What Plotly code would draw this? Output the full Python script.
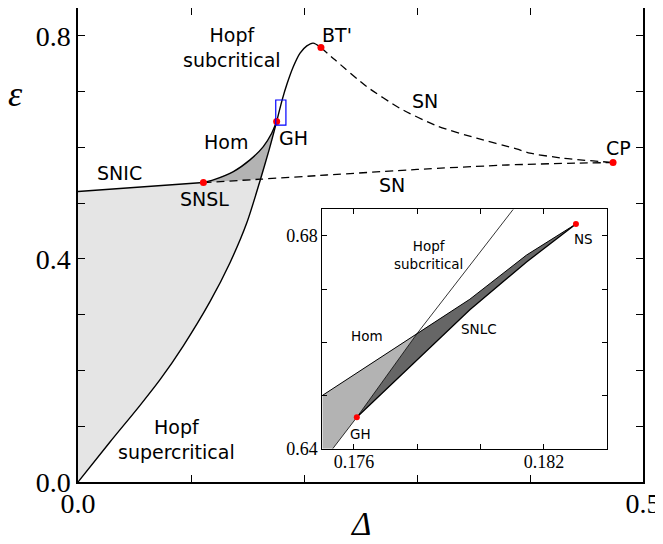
import plotly.graph_objects as go

# ---------------- main diagram data (Delta, epsilon) ----------------
hopf_x = [0.0, 0.0283, 0.0549, 0.0726, 0.0932, 0.1168, 0.1345, 0.1493, 0.1615, 0.1693, 0.1758,
          0.1805, 0.1850, 0.1906, 0.1965, 0.2025, 0.208, 0.215]
hopf_y = [0.0, 0.0717, 0.1375, 0.1835, 0.2443, 0.3234, 0.3933, 0.4643, 0.543, 0.597, 0.6463,
          0.684, 0.714, 0.745, 0.769, 0.782, 0.787, 0.779]
hopf_cross_idx = 8   # Hopf meets lower SN line
hopf_gh_idx = 10     # GH point on Hopf curve

hom_x = [0.111, 0.1198, 0.1375, 0.1522, 0.164, 0.1714, 0.1758]
hom_y = [0.537, 0.5417, 0.5566, 0.5776, 0.6014, 0.6254, 0.6463]

snic_x = [0.0, 0.055, 0.111]
snic_y = [0.521, 0.529, 0.537]

sn_low_x = [0.111, 0.1615, 0.22, 0.30, 0.38, 0.44, 0.4735]
sn_low_y = [0.537, 0.543, 0.5505, 0.5605, 0.5685, 0.5718, 0.5728]
sn_low_cross_idx = 1

sn_up_x = [0.215, 0.2274, 0.2555, 0.285, 0.3174, 0.3528, 0.388, 0.4, 0.4295, 0.4735]
sn_up_y = [0.779, 0.757, 0.709, 0.670, 0.6386, 0.6165, 0.5973, 0.5896, 0.5806, 0.5728]

pt_names = ["SNSL", "GH", "BT'", "CP"]
pt_x = [0.111, 0.1758, 0.215, 0.4735]
pt_y = [0.537, 0.6463, 0.779, 0.5728]

zoom_box_x = [0.175, 0.184]
zoom_box_y = [0.64, 0.685]

main_labels = ["Hopf<br>subcritical", "BT'", "SN", "CP", "SN", "SNIC", "SNSL", "Hom", "GH",
               "Hopf<br>supercritical"]
main_lab_x = [0.1363, 0.2292, 0.3071, 0.4779, 0.2779, 0.0363, 0.1115, 0.131, 0.1903, 0.0876]
main_lab_y = [0.7785, 0.8018, 0.6834, 0.5991, 0.5327, 0.5543, 0.5076, 0.6099, 0.617, 0.0771]

x_ticks = [0.0, 0.1, 0.2, 0.3, 0.4, 0.5]
x_ticktext = ["0.0", "", "", "", "", "0.5"]
y_ticks = [0.0, 0.1, 0.2, 0.3, 0.4, 0.5, 0.6, 0.7, 0.8]
y_ticktext = ["0.0", "", "", "", "0.4", "", "", "", "0.8"]

# ---------------- inset data ----------------
in_hopf_x = [0.17533, 0.17609, 0.1780, 0.18103]
in_hopf_y = [0.640, 0.6459, 0.6617, 0.685]
in_hom_x = [0.175, 0.1780, 0.17966, 0.18145, 0.18301]
in_hom_y = [0.650, 0.6617, 0.6681, 0.6764, 0.68224]
in_snlc_x = [0.17609, 0.17966, 0.18145, 0.18301]
in_snlc_y = [0.6459, 0.6661, 0.6751, 0.68224]

in_pt_names = ["GH", "NS"]
in_pt_x = [0.17609, 0.18301]
in_pt_y = [0.6459, 0.68224]

in_labels = ["Hopf<br>subcritical", "Hom", "SNLC", "NS", "GH"]
in_lab_x = [0.17834, 0.17641, 0.17995, 0.18326, 0.17622]
in_lab_y = [0.67641, 0.66118, 0.6625, 0.67942, 0.64276]

in_x_ticks = [0.176, 0.178, 0.180, 0.182]
in_x_ticktext = ["0.176", "", "", "0.182"]
in_y_ticks = [0.64, 0.65, 0.66, 0.67, 0.68]
in_y_ticktext = ["0.64", "", "", "", "0.68"]

LIGHT = "#e5e5e5"
MID = "#b3b3b3"
DARK = "#666666"
SANS = "DejaVu Sans"
SERIF = "Liberation Serif"

fig = go.Figure()

# light gray region: left of Hopf, below SNIC / lower SN
lx = hopf_x[:hopf_cross_idx + 1] + sn_low_x[:sn_low_cross_idx][::-1] + snic_x[::-1]
ly = hopf_y[:hopf_cross_idx + 1] + sn_low_y[:sn_low_cross_idx][::-1] + snic_y[::-1]
fig.add_trace(go.Scatter(x=lx, y=ly, fill="toself", fillcolor=LIGHT, mode="none",
                         hoverinfo="skip"))
# mid gray region: between Hom, Hopf and lower SN
mx = hom_x + hopf_x[hopf_cross_idx:hopf_gh_idx + 1][::-1] + sn_low_x[:sn_low_cross_idx][::-1]
my = hom_y + hopf_y[hopf_cross_idx:hopf_gh_idx + 1][::-1] + sn_low_y[:sn_low_cross_idx][::-1]
fig.add_trace(go.Scatter(x=mx, y=my, fill="toself", fillcolor=MID, mode="none",
                         hoverinfo="skip"))

solid = dict(color="black", width=1.4)
fig.add_trace(go.Scatter(x=hopf_x, y=hopf_y, mode="lines",
                         line=dict(color="black", width=1.4, shape="spline", smoothing=0.8)))
fig.add_trace(go.Scatter(x=hom_x, y=hom_y, mode="lines",
                         line=dict(color="black", width=1.4, shape="spline", smoothing=0.6)))
fig.add_trace(go.Scatter(x=snic_x, y=snic_y, mode="lines", line=solid))
fig.add_trace(go.Scatter(x=sn_low_x, y=sn_low_y, mode="lines",
                         line=dict(color="black", width=1.3, dash="8px,5px", shape="spline",
                                   smoothing=0.6)))
fig.add_trace(go.Scatter(x=sn_up_x, y=sn_up_y, mode="lines",
                         line=dict(color="black", width=1.3, dash="8px,5px", shape="spline",
                                   smoothing=0.6)))
fig.add_trace(go.Scatter(x=pt_x, y=pt_y, mode="markers", text=pt_names,
                         marker=dict(color="red", size=7, line=dict(width=0))))

# zoom box
fig.add_shape(type="rect", xref="x", yref="y", x0=zoom_box_x[0], x1=zoom_box_x[1],
              y0=zoom_box_y[0], y1=zoom_box_y[1], line=dict(color="blue", width=1.2),
              fillcolor="rgba(0,0,0,0)", layer="above")

for t, x, y in zip(main_labels, main_lab_x, main_lab_y):
    fig.add_annotation(x=x, y=y, xref="x", yref="y", text=t, showarrow=False,
                       xanchor="center", yanchor="middle",
                       font=dict(family=SANS, size=19, color="black"))

# ---------------- inset ----------------
fig.add_shape(type="rect", xref="x2", yref="y2", x0=0.175, x1=0.184,
              y0=0.64, y1=0.685, fillcolor="white", line=dict(width=0), layer="below")

ilx = [0.175, 0.175] + in_hom_x[1:2] + in_hopf_x[:3][::-1][1:]
ily = [0.640, in_hom_y[0]] + in_hom_y[1:2] + in_hopf_y[:3][::-1][1:]
fig.add_trace(go.Scatter(x=ilx, y=ily, xaxis="x2", yaxis="y2", fill="toself",
                         fillcolor=MID, mode="none", hoverinfo="skip"))
idx = in_hopf_x[1:3] + in_hom_x[2:] + in_snlc_x[::-1][1:]
idy = in_hopf_y[1:3] + in_hom_y[2:] + in_snlc_y[::-1][1:]
fig.add_trace(go.Scatter(x=idx, y=idy, xaxis="x2", yaxis="y2", fill="toself",
                         fillcolor=DARK, mode="none", hoverinfo="skip"))
fig.add_trace(go.Scatter(x=in_hopf_x, y=in_hopf_y, xaxis="x2", yaxis="y2", mode="lines",
                         line=dict(color="black", width=0.8)))
fig.add_trace(go.Scatter(x=in_hom_x, y=in_hom_y, xaxis="x2", yaxis="y2", mode="lines",
                         line=dict(color="black", width=1.0)))
fig.add_trace(go.Scatter(x=in_snlc_x, y=in_snlc_y, xaxis="x2", yaxis="y2", mode="lines",
                         line=dict(color="black", width=1.3)))
fig.add_trace(go.Scatter(x=in_pt_x, y=in_pt_y, xaxis="x2", yaxis="y2", mode="markers",
                         text=in_pt_names, marker=dict(color="red", size=6, line=dict(width=0))))

for t, x, y in zip(in_labels, in_lab_x, in_lab_y):
    fig.add_annotation(x=x, y=y, xref="x2", yref="y2", text=t, showarrow=False,
                       xanchor="center", yanchor="middle",
                       font=dict(family=SANS, size=13.5, color="black"))

# axis titles as annotations
fig.add_annotation(x=-0.1115, y=0.8186, xref="paper", yref="paper", text="<i>ε</i>",
                   xanchor="center", yanchor="middle",
                   showarrow=False, font=dict(family=SERIF, size=36, color="black"))
fig.add_annotation(x=0.5, y=-0.1285, xref="paper", yref="paper", text="<i>Δ</i>",
                   xanchor="center", yanchor="bottom", borderpad=0,
                   showarrow=False, font=dict(family=SERIF, size=33, color="black"))

axis_common = dict(showgrid=False, zeroline=False, showline=True, linecolor="black",
                   mirror="ticks", ticks="inside", tickcolor="black", automargin=False)

# the page body adds an 8px offset, so the figure is sized to fill the rest of the window
fig.update_layout(
    width=655, height=536,
    margin=dict(l=70, r=20, t=0, b=62),
    paper_bgcolor="white", plot_bgcolor="white",
    showlegend=False,
    xaxis=dict(range=[0, 0.5], tickvals=x_ticks, ticktext=x_ticktext, ticklen=7,
               linewidth=1.5, tickwidth=1.2, ticklabelstandoff=-4,
               tickfont=dict(family=SERIF, size=28, color="black"), **axis_common),
    yaxis=dict(range=[0, 0.85], tickvals=y_ticks, ticktext=y_ticktext, ticklen=7,
               linewidth=1.5, tickwidth=1.2,
               tickfont=dict(family=SERIF, size=28, color="black"), **axis_common),
    xaxis2=dict(domain=[0.4324, 0.9368], anchor="y2", range=[0.175, 0.184],
                tickvals=in_x_ticks, ticktext=in_x_ticktext, ticklen=5, linewidth=1,
                tickwidth=1, ticklabelstandoff=-3,
                tickfont=dict(family=SERIF, size=18, color="black"), **axis_common),
    yaxis2=dict(domain=[0.0703, 0.5753], anchor="x2", range=[0.64, 0.685],
                tickvals=in_y_ticks, ticktext=in_y_ticktext, ticklen=5, linewidth=1,
                tickwidth=1, tickfont=dict(family=SERIF, size=18, color="black"),
                **axis_common),
)

fig.write_html("out.html")
